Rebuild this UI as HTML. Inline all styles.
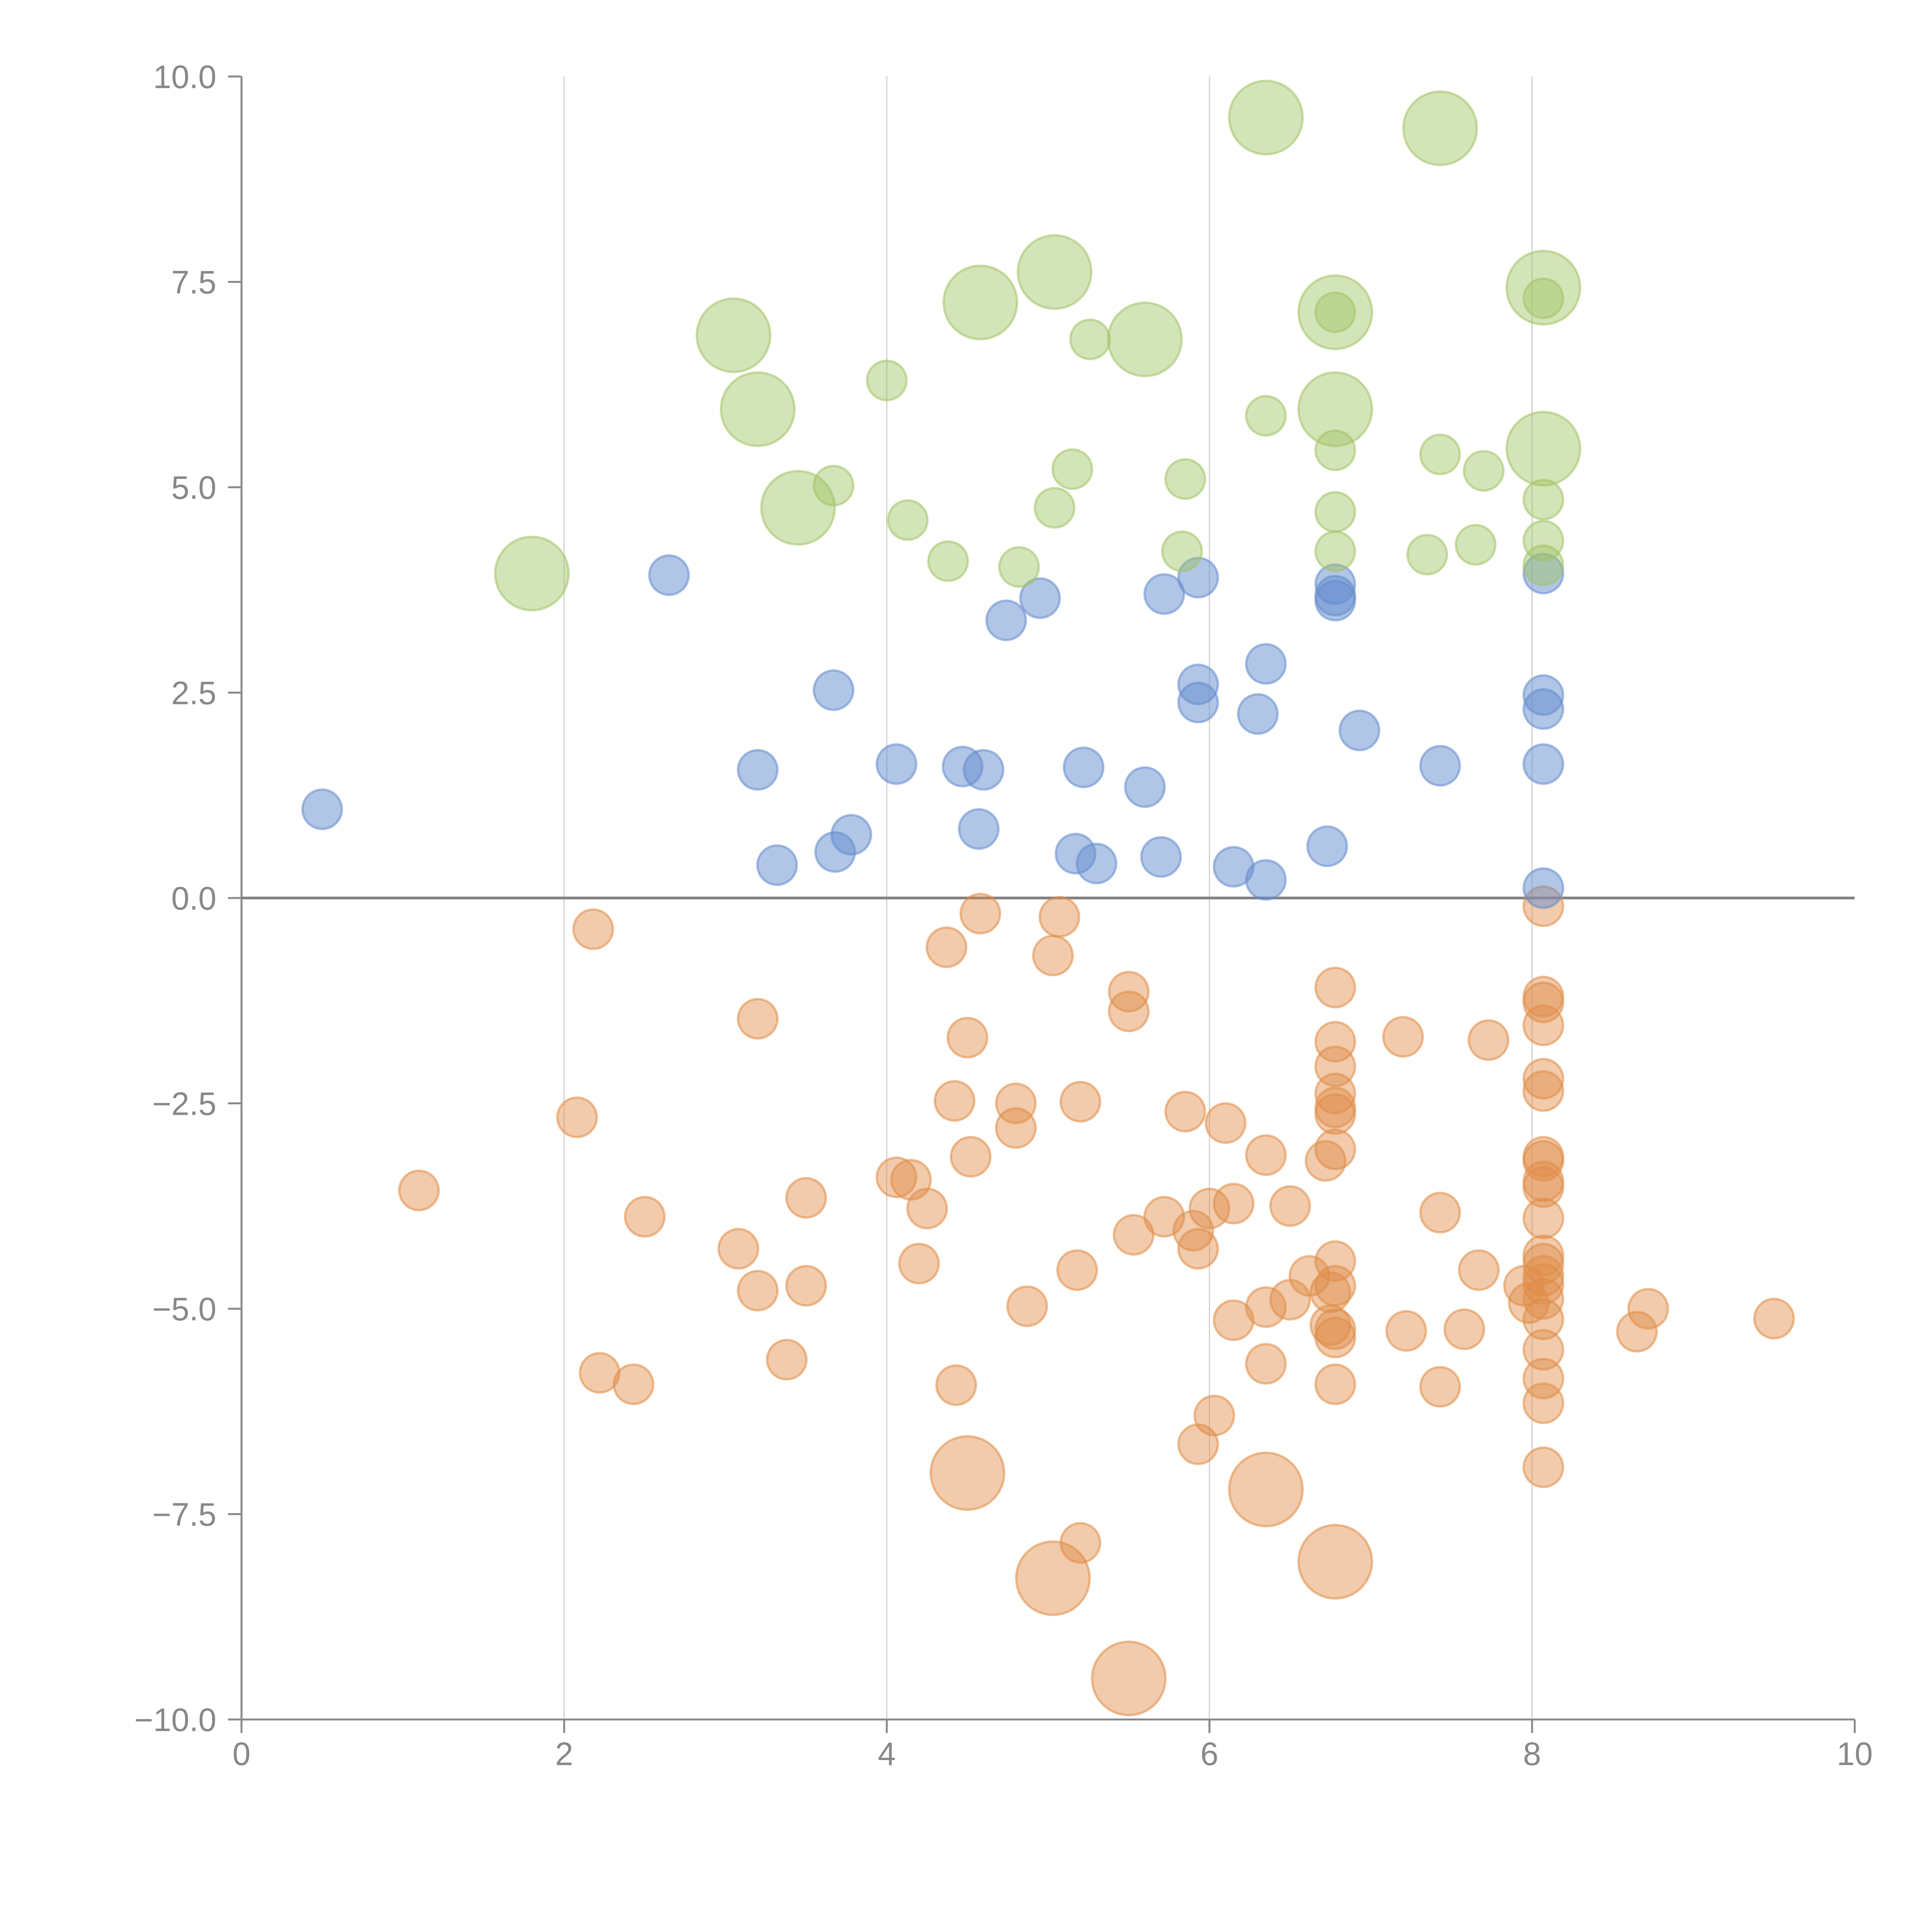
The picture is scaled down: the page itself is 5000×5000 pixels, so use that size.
<!DOCTYPE html>
<html><head><meta charset="utf-8"><style>html,body{margin:0;padding:0;background:#fff}svg{display:block}</style></head>
<body>
<svg id="chart" width="5000" height="5000" viewBox="0 0 5000 5000" xmlns="http://www.w3.org/2000/svg" font-family="'Liberation Sans', sans-serif">
<rect width="5000" height="5000" fill="#fff"/>
<g id="grid"></g>
<g id="axes"></g>
<g id="marks"></g>
</svg>
<script>
const xTicks=[0,2,4,6,8,10];
const yTicks=[-10,-7.5,-5,-2.5,0,2.5,5,7.5,10];
const xTickLabels=["0","2","4","6","8","10"];
const yTickLabels=["\u221210.0","\u22127.5","\u22125.0","\u22122.5","0.0","2.5","5.0","7.5","10.0"];
const greenX=[1.8,3.05,3.2,3.45,3.67,4.0,4.13,4.38,4.58,4.82,5.04,5.04,5.15,5.26,5.6,5.83,5.85,6.35,6.35,6.78,6.78,6.78,6.78,6.78,6.78,7.35,7.43,7.43,7.65,7.7,8.07,8.07,8.07,8.07,8.07,8.07];
const greenY=[3.95,6.85,5.95,4.75,5.02,6.3,4.6,4.1,7.25,4.03,7.62,4.75,5.22,6.8,6.8,4.22,5.1,5.87,9.5,7.13,7.13,5.95,5.45,4.7,4.22,4.18,9.37,5.4,4.3,5.2,7.43,7.3,5.47,4.85,4.35,4.05];
const greenBig=[1,1,1,1,0,0,0,0,1,0,1,0,0,0,1,0,0,0,1,1,0,1,0,0,0,0,1,0,0,0,1,0,1,0,0,0];
const blueX=[0.5,2.65,3.2,3.32,3.67,3.68,3.78,4.06,4.47,4.57,4.6,4.74,4.95,5.17,5.22,5.3,5.6,5.7,5.72,5.93,5.93,5.93,6.15,6.3,6.35,6.35,6.73,6.78,6.78,6.78,6.93,7.43,8.07,8.07,8.07,8.07,8.07];
const blueY=[1.08,3.93,1.56,0.4,2.53,0.56,0.77,1.63,1.6,0.84,1.56,3.38,3.65,0.54,1.59,0.42,1.35,0.5,3.7,3.9,2.6,2.38,0.38,2.24,2.85,0.22,0.63,3.82,3.68,3.62,2.04,1.61,3.95,2.47,2.3,1.63,0.12];
const orangeX=[2.18,3.2,2.08,1.1,2.5,3.08,3.2,3.38,3.5,3.5,2.22,2.43,4.06,4.15,4.25,4.2,4.37,4.42,4.43,4.5,4.52,4.58,4.8,4.8,4.87,5.03,5.07,5.18,5.2,5.2,5.5,5.5,5.53,5.72,5.85,5.9,5.93,5.93,6.03,6.0,6.1,6.15,6.15,6.35,6.35,6.35,6.5,6.5,6.62,6.72,6.75,6.75,6.78,6.78,6.78,6.78,6.78,6.78,6.78,6.78,6.78,6.78,6.78,6.78,7.2,7.22,7.43,7.43,7.58,7.67,7.73,7.95,7.98,8.07,8.07,8.07,8.07,8.07,8.07,8.07,8.07,8.07,8.07,8.07,8.07,8.07,8.07,8.07,8.07,8.07,8.07,8.07,8.07,8.07,8.65,8.72,9.5,4.5,5.03,5.5,6.35,6.78];
const orangeY=[-0.38,-1.47,-2.67,-3.56,-3.88,-4.27,-4.78,-5.62,-3.65,-4.72,-5.78,-5.92,-3.4,-3.43,-3.78,-4.45,-0.6,-2.47,-5.93,-1.7,-3.15,-0.19,-2.5,-2.8,-4.97,-0.7,-0.23,-4.53,-2.48,-7.85,-1.14,-1.38,-4.1,-3.88,-2.6,-4.05,-4.27,-6.65,-6.3,-3.78,-2.74,-3.72,-5.14,-3.13,-4.98,-5.67,-4.89,-3.75,-4.6,-3.2,-4.8,-5.2,-1.09,-1.75,-2.05,-2.38,-2.55,-2.63,-3.06,-4.42,-4.72,-5.25,-5.35,-5.92,-1.69,-5.27,-3.83,-5.95,-5.25,-4.53,-1.73,-4.72,-4.93,-0.1,-1.2,-1.27,-1.55,-2.2,-2.35,-3.15,-3.2,-3.45,-3.52,-3.9,-4.35,-4.45,-4.6,-4.7,-4.88,-5.13,-5.5,-5.85,-6.15,-6.93,-5.28,-5.0,-5.12,-7.0,-8.28,-9.5,-7.2,-8.08];
const orangeBig=orangeX.map((_,i)=>i>=orangeX.length-5?1:0);

const X0=625,X1=4800,Y0=4450,Y1=198;
const sx=v=>X0+(v-0)/(10-0)*(X1-X0);
const sy=v=>Y0-(v+10)/20*(Y0-Y1);
const NS="http://www.w3.org/2000/svg";
function mk(tag,attrs,parent){const e=document.createElementNS(NS,tag);for(const k in attrs)e.setAttribute(k,attrs[k]);parent.appendChild(e);return e;}
const grid=document.getElementById('grid'),axes=document.getElementById('axes'),marks=document.getElementById('marks');

xTicks.forEach((t,i)=>{
  if(t>0&&t<10){const g=mk('line',{x1:sx(t),x2:sx(t),y1:Y1,y2:Y0,stroke:'#c8c8c8','stroke-width':2.5},grid);
  
  }
  const tk=mk('line',{x1:sx(t),x2:sx(t),y1:Y0,y2:Y0+35,stroke:'#888','stroke-width':5},axes);
  
  
  const tx=mk('text',{x:sx(t),y:Y0+118,'text-anchor':'middle','font-size':84,fill:'#888'},axes);
  tx.textContent=xTickLabels[i];
  
  
});
yTicks.forEach((t,i)=>{
  const tk=mk('line',{x1:X0-35,x2:X0,y1:sy(t),y2:sy(t),stroke:'#888','stroke-width':5},axes);
  
  
  const tx=mk('text',{x:560,y:sy(t)+30,'text-anchor':'end','font-size':84,fill:'#888'},axes);
  tx.textContent=yTickLabels[i];
  
  
});
let l=mk('line',{x1:X0,x2:X0,y1:Y1,y2:Y0,stroke:'#888','stroke-width':5},axes);


l=mk('line',{x1:X0,x2:X1,y1:Y0,y2:Y0,stroke:'#888','stroke-width':5},axes);


l=mk('line',{x1:X0,x2:X1,y1:sy(0),y2:sy(0),stroke:'#808080','stroke-width':7},axes);



function series(xs,ys,big,fill,stroke,name){
  xs.forEach((x,i)=>{
    const r=big&&big[i]?95:51;
    const c=mk('circle',{cx:sx(x),cy:sy(ys[i]),r:r,fill:fill,stroke:stroke,'stroke-width':6},marks);
    
    
  });
}
series(orangeX,orangeY,orangeBig,'rgba(224,140,70,0.45)','rgba(224,140,70,0.55)','orange-bubble');
series(blueX,blueY,null,'rgba(100,140,205,0.5)','rgba(100,140,205,0.55)','blue-bubble');
series(greenX,greenY,greenBig,'rgba(160,195,100,0.45)','rgba(160,195,100,0.55)','green-bubble');
</script>
</body></html>
